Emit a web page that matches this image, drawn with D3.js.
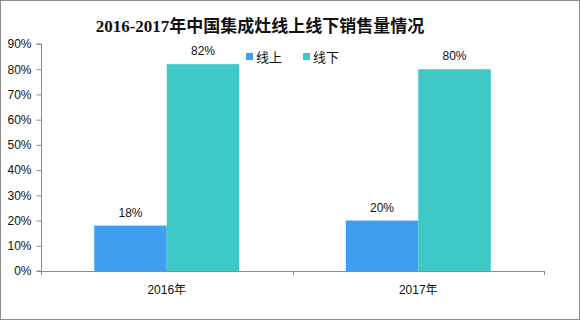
<!DOCTYPE html>
<html lang="en">
<head>
    <meta charset="utf-8">
    <title>集成灶线上线下</title>
    <script src="https://d3js.org/d3.v7.min.js"></script>
    <style type="text/css">
        body { margin: 0; background: #fff; }
        text { font-family: "Liberation Sans", "Noto Sans CJK SC", sans-serif; }
    </style>
</head>
<body>
<script type="text/javascript">

    // data
    var years = ["2016年", "2017年"];
    var series = ["线上", "线下"];
    var online = [18, 20];
    var offline = [82, 80];
    var colors = ["#3f9ef0", "#3ec8c8"];
    var yTicks = [0, 10, 20, 30, 40, 50, 60, 70, 80, 90];

    var w = 580;
    var h = 321;

    var svg = d3.select("body")
        .append("svg")
        .attr("width", w)
        .attr("height", h);

    svg.append("rect")
        .attr("x", 0.5).attr("y", 0.5)
        .attr("width", w - 1).attr("height", h - 2)
        .attr("fill", "#fff")
        .attr("stroke", "#8c8c8c");

    var plot_left = 41, plot_right = 544, plot_top = 44, plot_bottom = 271;

    var xScale = d3.scaleBand()
        .domain(years)
        .range([plot_left, plot_right])
        .paddingInner(0.4235)
        .paddingOuter(0.21175);

    var xInner = d3.scaleBand()
        .domain(series)
        .range([0, xScale.bandwidth()]);

    var yScale = d3.scaleLinear()
        .domain([0, 90])
        .range([plot_bottom, plot_top]);

    // title
    svg.append("text")
        .attr("x", 260)
        .attr("y", 32)
        .attr("text-anchor", "middle")
        .style("font-family", "'Liberation Serif', 'Noto Sans CJK SC', serif")
        .style("font-size", "17px")
        .style("font-weight", "bold")
        .attr("fill", "#111")
        .text("2016-2017年中国集成灶线上线下销售量情况");

    // y axis
    var yAxis = d3.axisLeft(yScale)
        .tickValues(yTicks)
        .tickSize(5)
        .tickFormat(function(d) { return d + "%"; });

    var gy = svg.append("g")
        .attr("transform", "translate(" + (plot_left + 0.5) + ",0)")
        .call(yAxis);
    gy.select("path").attr("d", "M-5," + plot_top + "H0V" + plot_bottom + "H-5");
    gy.selectAll("path, line").attr("stroke", "#8c8c8c");
    gy.selectAll("text")
        .attr("x", -10)
        .style("font-size", "12px")
        .attr("fill", "#111");

    // x axis
    var xAxis = d3.axisBottom(xScale).tickSize(0).tickPadding(14);
    var gx = svg.append("g")
        .attr("transform", "translate(0," + (plot_bottom + 0.5) + ")")
        .call(xAxis);
    gx.select("path").attr("d", "M" + plot_left + ",0H" + plot_right).attr("stroke", "#8c8c8c");
    gx.selectAll("text")
        .style("font-size", "12px")
        .attr("fill", "#111");

    // category boundary ticks
    var step = xScale.step();
    var bounds = [plot_left, plot_left + step, plot_right];
    svg.selectAll("line.bound")
        .data(bounds)
        .enter()
        .append("line")
        .attr("class", "bound")
        .attr("x1", function(d) { return Math.round(d) + 0.5; })
        .attr("x2", function(d) { return Math.round(d) + 0.5; })
        .attr("y1", plot_bottom)
        .attr("y2", plot_bottom + 4)
        .attr("stroke", "#8c8c8c");

    // bars
    var rows = [];
    years.forEach(function(y, i) {
        rows.push({ year: y, s: series[0], v: online[i], c: colors[0] });
        rows.push({ year: y, s: series[1], v: offline[i], c: colors[1] });
    });

    svg.selectAll("rect.bar")
        .data(rows)
        .enter()
        .append("rect")
        .attr("class", "bar")
        .attr("x", function(d) { return xScale(d.year) + xInner(d.s); })
        .attr("y", function(d) { return yScale(d.v); })
        .attr("width", xInner.bandwidth())
        .attr("height", function(d) { return plot_bottom - yScale(d.v); })
        .attr("fill", function(d) { return d.c; });

    svg.selectAll("text.lbl")
        .data(rows)
        .enter()
        .append("text")
        .attr("class", "lbl")
        .attr("x", function(d) { return xScale(d.year) + xInner(d.s) + xInner.bandwidth() / 2; })
        .attr("y", function(d) { return yScale(d.v) - 9; })
        .attr("text-anchor", "middle")
        .style("font-size", "12px")
        .attr("fill", "#111")
        .text(function(d) { return d.v + "%"; });

    // legend
    var legend = svg.append("g");
    var lx = [246, 303];
    series.forEach(function(s, i) {
        legend.append("rect")
            .attr("x", lx[i]).attr("y", 53)
            .attr("width", 7).attr("height", 7)
            .attr("fill", colors[i]);
        legend.append("text")
            .attr("x", lx[i] + 10).attr("y", 62)
            .style("font-family", "'Noto Sans CJK SC', sans-serif")
            .style("font-size", "13px")
            .attr("fill", "#111")
            .text(s);
    });

</script>
</body>
</html>
